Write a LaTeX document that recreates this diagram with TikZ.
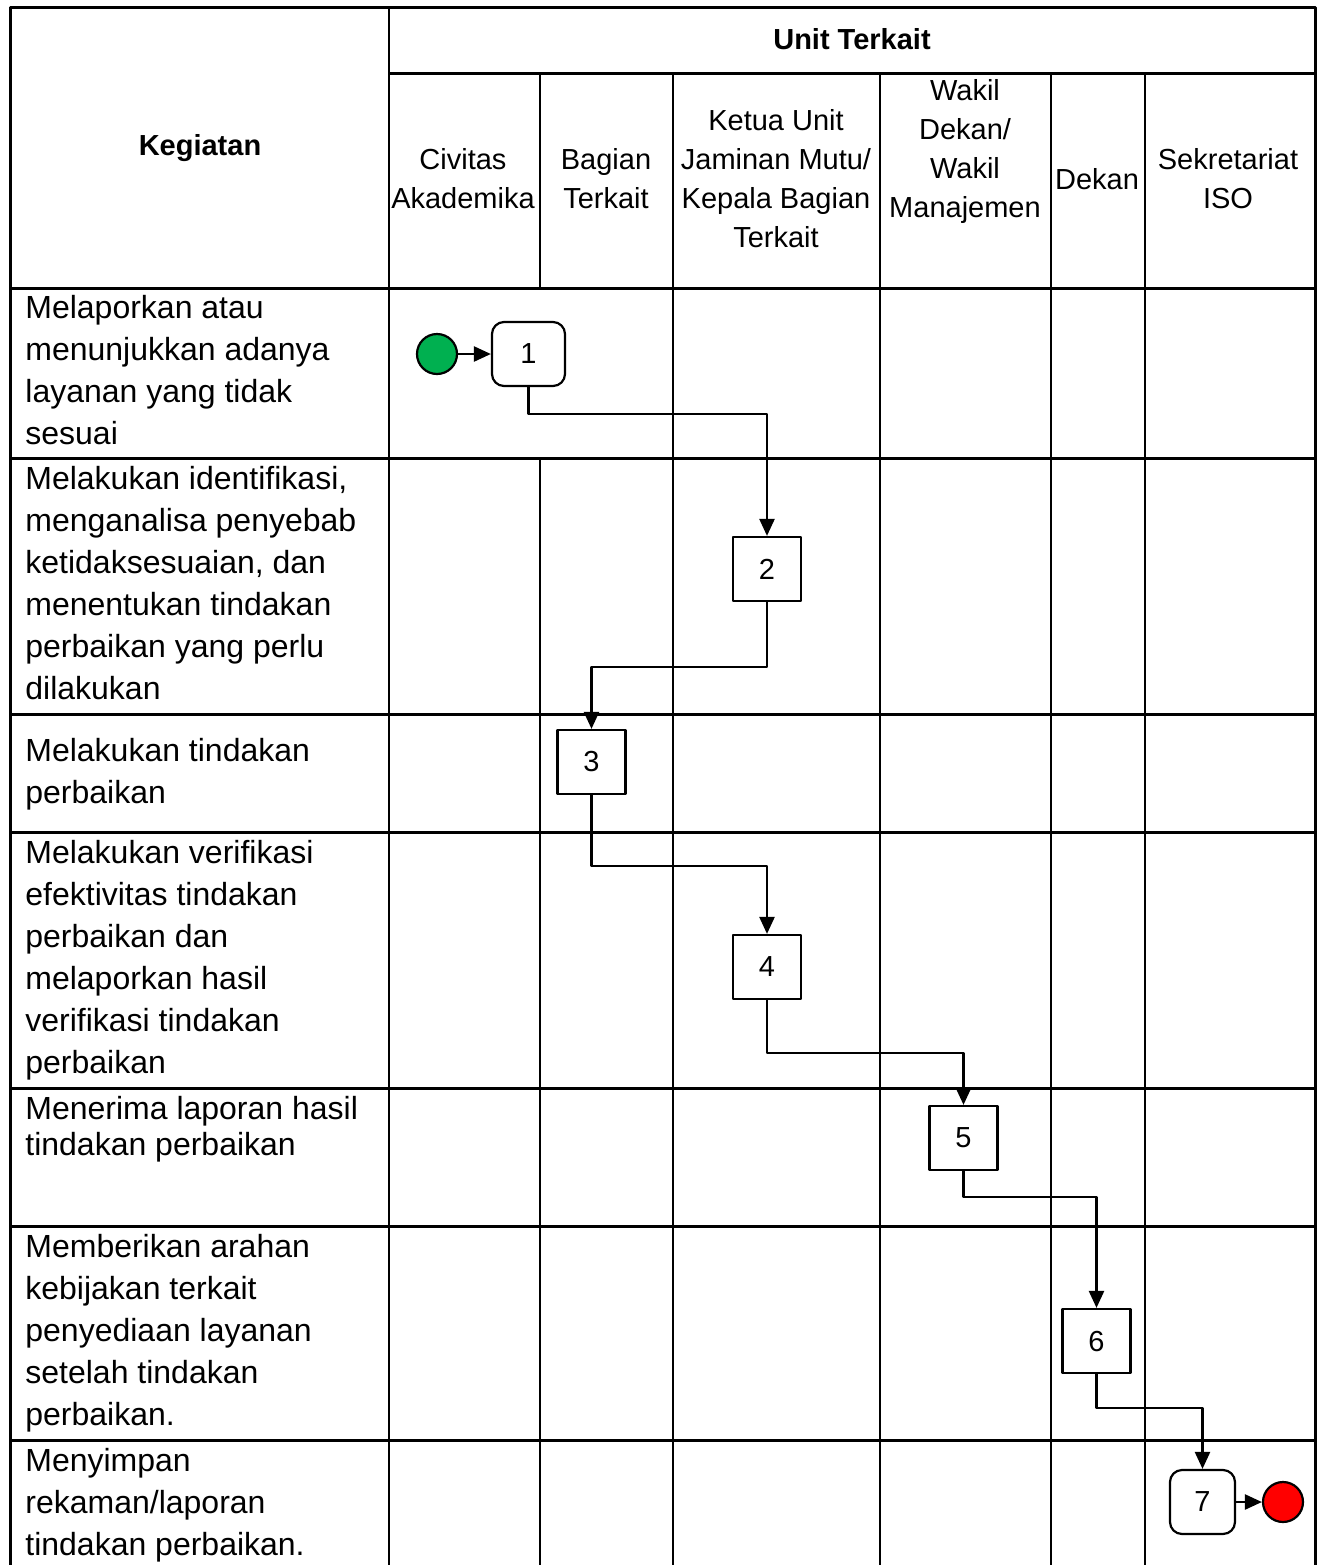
\documentclass[tikz,border=0pt]{standalone}
\usepackage{fontspec}
\setmainfont{Liberation Sans}
\usetikzlibrary{arrows.meta}
\definecolor{startgreen}{RGB}{0,176,80}
\definecolor{endred}{RGB}{255,0,0}
\begin{document}
\begin{tikzpicture}[x=0.5pt,y=-0.5pt,line join=round,>={Triangle[length=8.5pt,width=7.5pt]},
	hline/.style={line width=1.5pt},
	vline/.style={line width=1.1pt},
	head/.style={align=center,font=\fontsize{14.5}{19.5}\selectfont,inner sep=0pt},
	task/.style={anchor=north west,align=left,font=\fontsize{16}{21}\selectfont,inner sep=0pt},
	stepbox/.style={draw,line width=1.1pt,minimum height=32pt,font=\fontsize{14.5}{17}\selectfont,fill=white},
	flow/.style={line width=1.2pt,->}]
	\useasboundingbox (0,0) rectangle (1319,1565);
	%% garis tabel
	\draw[hline] (10,1565)--(10,7)--(1315,7)--(1315,1565);
	\draw[hline] (389,73)--(1315,73);
	\foreach \y in {288,458,714,832,1088,1226,1440}
	\draw[hline] (10,\y)--(1315,\y);
	\draw[vline] (389,7)--(389,1565);
	\draw[vline] (540,73)--(540,288) (540,458)--(540,1565);
	\foreach \x in {673,880,1051,1145}
	\draw[vline] (\x,73)--(\x,1565);
	%% judul kolom
	\node[head,font=\fontsize{14.5}{19.5}\selectfont\bfseries] (keg) at (200,148) {Kegiatan};
	\node[head,font=\fontsize{14.5}{19.5}\selectfont\bfseries] (unit) at (852,39) {Unit Terkait};
	\foreach \x/\t/\n in {463/{Civitas\\Akademika}/civ,606/{Bagian\\Terkait}/bag,776/{Ketua Unit\\Jaminan Mutu/\\Kepala Bagian\\Terkait}/kum,1097/Dekan/dek,1228/{Sekretariat\\ISO}/iso}
	\node[head] (\n) at (\x,179) {\t};
	\node[head] (wd) at (965,151) {Wakil\\Dekan/\\Wakil\\Manajemen};
	%% kegiatan
	\node[task] (k1) at (25,295) {Melaporkan atau\\menunjukkan adanya\\layanan yang tidak\\sesuai};
	\node[task] (k2) at (25,466) {Melakukan identifikasi,\\menganalisa penyebab\\ketidaksesuaian, dan\\menentukan tindakan\\perbaikan yang perlu\\dilakukan};
	\node[task] (k3) at (25,738) {Melakukan tindakan\\perbaikan};
	\node[task] (k4) at (25,840) {Melakukan verifikasi\\efektivitas tindakan\\perbaikan dan\\melaporkan hasil\\verifikasi tindakan\\perbaikan};
	\node[task,font=\fontsize{16}{18}\selectfont] (k5) at (25,1096) {Menerima laporan hasil\\tindakan perbaikan};
	\node[task] (k6) at (25,1234) {Memberikan arahan\\kebijakan terkait\\penyediaan layanan\\setelah tindakan\\perbaikan.};
	\node[task] (k7) at (25,1448) {Menyimpan\\rekaman/laporan\\tindakan perbaikan.};
	%% langkah
	\node[stepbox,rounded corners=6pt,minimum width=36.5pt] (b1) at (528.5,354) {1};
	\node[stepbox,minimum width=34pt] (b2) at (767,569) {2};
	\node[stepbox,minimum width=34pt] (b3) at (591.5,762) {3};
	\node[stepbox,minimum width=34pt] (b4) at (767,967) {4};
	\node[stepbox,minimum width=34pt] (b5) at (963.5,1138) {5};
	\node[stepbox,minimum width=34pt] (b6) at (1096.5,1341) {6};
	\node[stepbox,rounded corners=6pt,minimum width=32.5pt] (b7) at (1202.5,1502) {7};
	\node[circle,draw,line width=1.1pt,fill=startgreen,minimum size=20pt,inner sep=0pt] (mulai) at (437,354) {};
	\node[circle,draw,line width=1.1pt,fill=endred,minimum size=20pt,inner sep=0pt] (selesai) at (1283,1502) {};
	%% alur
	\draw[flow] (mulai)--(b1);
	\draw[flow] (b1.south)--++(0,27)-|(b2.north);
	\draw[flow] (b2.south)--++(0,65)-|(b3.north);
	\draw[flow] (b3.south)--++(0,71)-|(b4.north);
	\draw[flow] (b4.south)--++(0,53)-|(b5.north);
	\draw[flow] (b5.south)--++(0,26)-|(b6.north);
	\draw[flow] (b6.south)--++(0,34)-|(b7.north);
	\draw[flow] (b7)--(selesai);
\end{tikzpicture}
\end{document}
